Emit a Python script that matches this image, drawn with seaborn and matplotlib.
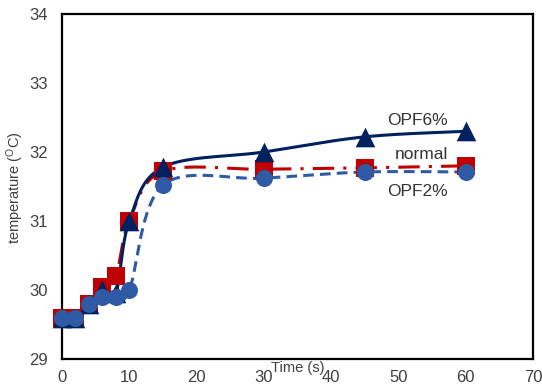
import numpy as np
import pandas as pd
import matplotlib
matplotlib.use("Agg")
import matplotlib.pyplot as plt
import seaborn as sns

# Measured temperatures over time
time_s = [0, 2, 4, 6, 8, 10, 15, 30, 45, 60]
normal = [29.6, 29.6, 29.8, 30.05, 30.2, 31.0, 31.72, 31.75, 31.77, 31.8]
opf2 = [29.6, 29.6, 29.8, 29.9, 29.9, 30.0, 31.52, 31.62, 31.71, 31.71]
opf6 = [29.6, 29.6, 29.8, 30.0, 29.95, 31.0, 31.78, 32.0, 32.22, 32.3]

x_ticks = [0, 10, 20, 30, 40, 50, 60, 70]
y_ticks = [29, 30, 31, 32, 33, 34]

sns.set_theme(style="white")
plt.rcParams["font.family"] = ["Liberation Sans", "DejaVu Sans"]

XMAX, YMIN, YMAX = 70, 29, 34
W_PX, H_PX = 471.0, 345.0


def smooth(xs, ys, n=40):
    """Bezier smoothing through the points (Catmull-Rom style), in screen proportions."""
    sx = np.asarray(xs, float) / XMAX * W_PX
    sy = (np.asarray(ys, float) - YMIN) / (YMAX - YMIN) * H_PX
    pts = np.column_stack([sx, sy])
    out = []
    m = len(pts)
    for i in range(m - 1):
        p0 = pts[max(i - 1, 0)]
        p1 = pts[i]
        p2 = pts[i + 1]
        p3 = pts[min(i + 2, m - 1)]
        c1 = p1 + (p2 - p0) / 6.0
        c2 = p2 - (p3 - p1) / 6.0
        t = np.linspace(0, 1, n)[:, None]
        seg = ((1 - t) ** 3) * p1 + 3 * ((1 - t) ** 2) * t * c1 + 3 * (1 - t) * t ** 2 * c2 + t ** 3 * p2
        out.append(seg if i == 0 else seg[1:])
    out = np.vstack(out)
    return out[:, 0] / W_PX * XMAX, out[:, 1] / H_PX * (YMAX - YMIN) + YMIN


fig = plt.figure(figsize=(5.42, 3.87), dpi=100)
ax = fig.add_axes([62 / 542, 1 - 359 / 387, 471 / 542, 345 / 387])

red = "#C00000"
navy = "#002060"
blue = "#2F5AA6"

series = [
    ("normal", normal, red, "s", 170, (0, (7, 3, 1, 3))),
    ("OPF6%", opf6, navy, "^", 200, "-"),
    ("OPF2%", opf2, blue, "o", 150, (0, (3.5, 2))),
]

for z, (name, vals, col, mk, size, ls) in enumerate(series):
    cx, cy = smooth(time_s, vals)
    sns.lineplot(x=cx, y=cy, ax=ax, color=col, lw=2.2, linestyle=ls,
                 sort=False, estimator=None, zorder=3 + z)
    sns.scatterplot(x=time_s, y=vals, ax=ax, color=col, marker=mk, s=size,
                    linewidth=0, zorder=6 + z, clip_on=False)

ax.set_xlim(0, XMAX)
ax.set_ylim(YMIN, YMAX)
ax.set_xticks(x_ticks)
ax.set_yticks(y_ticks)
ax.tick_params(axis="both", length=0, labelsize=12, labelcolor="#404040")
ax.tick_params(axis="y", pad=10)
ax.tick_params(axis="x", pad=8)
for sp in ax.spines.values():
    sp.set_color("black")
    sp.set_linewidth(1.6)

ax.set_xlabel("")
ax.set_ylabel("")
fig.text(298 / 542, 1 - 368 / 387, "Time (s)", ha="center", va="center",
         fontsize=10.5, color="#404040")
fig.text(15 / 542, 1 - 188 / 387, "temperature ($\\mathregular{^{O}}$C)", ha="center",
         va="center", rotation=90, fontsize=10.5, color="#404040")

ax.text(57.4, 32.46, "OPF6%", ha="right", va="center", fontsize=12.5, color="#333333")
ax.text(57.4, 31.97, "normal", ha="right", va="center", fontsize=12.5, color="#333333")
ax.text(57.3, 31.43, "OPF2%", ha="right", va="center", fontsize=12.5, color="#333333")

fig.savefig("out.png", dpi=100)
